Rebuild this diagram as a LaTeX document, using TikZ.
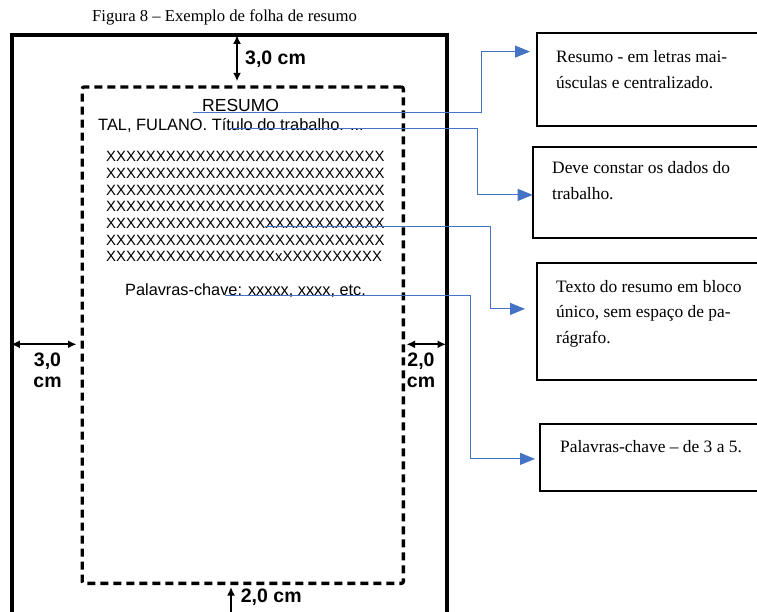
\documentclass[tikz,border=0pt]{standalone}
\usepackage{fontspec}
\setmainfont{Liberation Serif}
\setsansfont{Liberation Sans}
\usetikzlibrary{arrows.meta,positioning,calc}
\definecolor{leadBlue}{HTML}{4472C4}

\begin{document}
\begin{tikzpicture}[x=1pt,y=-1pt,
    note/.style={draw=black,line width=1.8pt,anchor=north west,minimum width=232pt,inner sep=0pt},
    notetext/.style={anchor=north west,align=left,inner sep=0pt,font=\fontsize{17.4}{25.5}\selectfont},
    lead/.style={draw=leadBlue,line width=1pt,-{Triangle[length=15pt,width=12pt]}},
    gap/.style={line width=2.2pt,{Latex[length=8.5pt,width=8pt]}-{Latex[length=8.5pt,width=8pt]}},
    gaptag/.style={font=\sffamily\bfseries\fontsize{19.5}{21}\selectfont,inner sep=0pt},
    sheet/.style={inner sep=0pt,anchor=base west}]
  \useasboundingbox (0,0) rectangle (757,611);
  \clip (0,0) rectangle (757,611);
  \fill[white] (0,0) rectangle (757,611);

  \node[anchor=base,inner sep=0pt,font=\fontsize{16.7}{20}\selectfont] (caption) at (224.5,21)
    {Figura 8 – Exemplo de folha de resumo};

  \node[draw,line width=4pt,anchor=north west,inner sep=0pt,minimum width=434.2pt,minimum height=590pt] (page) at (10.3,33.3) {};
  \node[draw,line width=3.3pt,dash pattern=on 8pt off 5pt,rounded corners=2pt,anchor=north west,inner sep=0pt,
    minimum width=321.2pt,minimum height=496.4pt] (margin) at (80.5,85.3) {};

  \draw[gap,shorten <=2pt,shorten >=4pt] (page.north -| 237,0) -- (margin.north -| 237,0);
  \draw[gap,shorten <=2pt,shorten >=3pt] (margin.south -| 231,0) -- (page.south -| 231,0);
  \draw[gap,shorten <=1pt,shorten >=4pt] (page.west |- 0,344.3) -- (margin.west |- 0,344.3);
  \draw[gap,shorten <=1.5pt,shorten >=2.5pt] (margin.east |- 0,344.3) -- (page.east |- 0,344.3);

  \node[gaptag,anchor=base west] (toptag) at (245,64) {3,0 cm};
  \node[gaptag,anchor=base west] (bottomtag) at (240.7,602.7) {2,0 cm};
  \node[gaptag,align=center,anchor=north] (lefttag) at (47.5,353) {3,0\\cm};
  \node[gaptag,align=center,anchor=north] (righttag) at (421,353) {2,0\\cm};

  \node[sheet,font=\sffamily\fontsize{17.5}{20}\selectfont] (title) at (202,111) {RESUMO};
  \node[sheet,font=\sffamily\fontsize{16.4}{20}\selectfont] (author) at (98,130.5) {TAL, FULANO. Título do trabalho. ...};
  \foreach \i in {1,...,6}
    \node[sheet,font=\sffamily\fontsize{14.9}{16}\selectfont] (row\i) at (106,{161.7+(\i-1)*16.67})
      {XXXXXXXXXXXXXXXXXXXXXXXXXXXX};
  \node[sheet,font=\sffamily\fontsize{14.9}{16}\selectfont] (row7) at (106,261.7)
    {XXXXXXXXXXXXXXXXXxXXXXXXXXXX};
  \node[sheet,font=\sffamily\fontsize{16.3}{20}\selectfont] (keys) at (125,295.7) {Palavras-chave: xxxxx, xxxx, etc.};

  \node[note,minimum height=92.7pt] (n1) at (536,32.3) {};
  \node[note,minimum height=91.6pt] (n2) at (531.7,145.7) {};
  \node[note,minimum height=117.3pt] (n3) at (535.7,261.7) {};
  \node[note,minimum height=67.3pt] (n4) at (539.3,422.7) {};

  \node[notetext] (t1) at ($(n1.north west)+(20,18.1)$) {Resumo - em letras mai-\\úsculas e centralizado.};
  \node[notetext] (t2) at ($(n2.north west)+(20.3,15.7)$) {Deve constar os dados do\\trabalho.};
  \node[notetext] (t3) at ($(n3.north west)+(20.3,18.4)$) {Texto do resumo em bloco\\único, sem espaço de pa-\\rágrafo.};
  \node[notetext] (t4) at ($(n4.north west)+(20.7,17.7)$) {Palavras-chave – de 3 a 5.};

  \coordinate (s1) at (193,112);
  \coordinate (s2) at (230,128.3);
  \coordinate (s3) at (265,226.7);
  \coordinate (s4) at (225,295.7);

  \draw[lead] (s1) -- ++(288.7,0) |- ([xshift=-6pt,yshift=27.95pt]n1.west);
  \draw[lead] (s2) -- ++(247.3,0) |- ([xshift=1pt,yshift=-2.5pt]n2.west);
  \draw[lead] (s3) -- ++(225,0) |- ([xshift=-10.7pt,yshift=12.35pt]n3.west);
  \draw[lead] (s4) -- ++(245,0) |- ([xshift=-4.3pt,yshift=-1.65pt]n4.west);
\end{tikzpicture}
\end{document}
